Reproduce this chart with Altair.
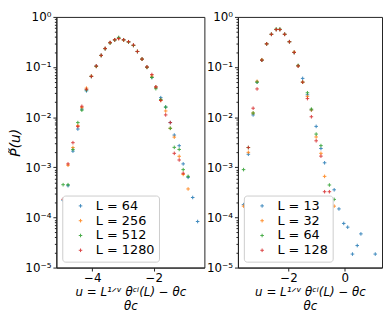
import altair as alt
import pandas as pd

# ---------------- data ----------------
u_left = [-4.95, -4.79, -4.63, -4.47, -4.34, -4.19, -4.03, -3.87, -3.71, -3.58,
          -3.42, -3.27, -3.14, -2.98, -2.82, -2.66, -2.53, -2.38, -2.22, -2.06,
          -1.93, -1.77, -1.61, -1.46, -1.33, -1.17, -1.04, -0.88, -0.73, -0.57]
labels_left = ["L = 64", "L = 256", "L = 512", "L = 1280"]
p_L64 = [2.2e-4, 4.3e-4, 2.1e-3, 5.8e-3, 1.45e-2, 3.35e-2, 0.065, 0.105, 0.171, 0.233,
         0.304, 0.347, 0.375, 0.347, 0.318, 0.27, 0.204, 0.144, 0.101, 0.062,
         0.040, 0.0245, 0.0159, 0.0078, 0.0044, 0.0027, 0.00117, 0.00063, 0.00025, 8.3e-5]
p_L256 = [None, 1.1e-3, 2.48e-3, 6.8e-3, 1.55e-2, 3.8e-2, 0.066, 0.103, 0.17, 0.233,
          0.304, 0.35, 0.37, 0.345, 0.318, 0.27, 0.206, 0.144, 0.100, 0.066,
          0.040, 0.0216, 0.0133, 0.006, 0.004, 0.00166, 0.00072, 0.00037, None, None]
p_L512 = [4.5e-4, 4.5e-4, 2.27e-3, 7.8e-3, 1.38e-2, 3.5e-2, 0.065, 0.103, 0.17, 0.233,
          0.304, 0.347, 0.39, 0.35, 0.315, 0.27, 0.204, 0.144, 0.098, 0.062,
          0.037, 0.0225, 0.0159, 0.006, 0.0025, 0.00227, 0.0009, 0.00066, None, None]
p_L1280 = [2.3e-4, 1.17e-3, 3.1e-3, 6.5e-3, 1.65e-2, 3.6e-2, 0.065, 0.105, 0.171, 0.235,
           0.31, 0.35, 0.37, 0.35, 0.32, 0.275, 0.204, 0.144, 0.10, 0.071,
           0.040, 0.0216, 0.0111, 0.0078, 0.0019, 0.0014, 0.00076, None, None, None]

u_right = [-3.60, -3.43, -3.26, -3.12, -2.95, -2.78, -2.61, -2.44, -2.31, -2.14,
           -1.97, -1.80, -1.66, -1.50, -1.33, -1.19, -1.02, -0.85, -0.72, -0.55,
           -0.38, -0.21, -0.04, 0.10, 0.27, 0.44, 0.57, 1.08]
labels_right = ["L = 13", "L = 32", "L = 64", "L = 128"]
p_L13 = [1.8e-4, 1.82e-3, 1.11e-2, 0.050, 0.137, 0.29, 0.45, 0.56, 0.56, 0.45,
         0.32, 0.195, 0.105, 0.0594, 0.028, 0.0139, 0.00655, 0.00237, 0.00123, None,
         3.56e-4, 1.48e-4, 7.6e-5, 6.4e-5, 1.86e-5, 2.75e-5, 4.7e-5, 1.86e-5]
p_L32 = [1.68e-4, 1.99e-3, 1.21e-2, 0.052, 0.14, 0.29, 0.45, 0.56, 0.56, 0.45,
         0.32, 0.2, 0.105, 0.050, 0.026, 0.0139, 0.00403, 0.0019, 6.6e-4, None,
         1.68e-4, None, None, None, None, None, None, None]
p_rL64 = [9e-4, 2.48e-3, 1.21e-2, 0.050, 0.137, 0.29, 0.45, 0.57, 0.57, 0.45,
          0.32, 0.195, 0.108, 0.050, 0.0307, 0.0145, 0.0046, 0.00271, 2.29e-4, 4.44e-4,
          2.29e-4, None, None, None, None, None, None, None]
p_L128 = [None, 2.48e-3, 1.51e-2, 0.0366, 0.137, 0.29, 0.45, 0.56, 0.56, 0.45,
          0.32, 0.195, 0.105, 0.050, 0.0235, 0.0102, 0.00338, 0.00167, 3.26e-4, 3.26e-4,
          None, None, None, None, None, None, None, None]

y_major = [1e-5, 1e-4, 1e-3, 1e-2, 1e-1, 1.0]
x_ticks_left = [-4, -2]
x_ticks_right = [-2, 0]

colors = ["#1f77b4", "#ff7f0e", "#2ca02c", "#d62728"]
CROSS = "M-1,0L1,0M0,-1L0,1"


def long_df(u, labels, series):
    rows = []
    for lab, vals in zip(labels, series):
        for uu, v in zip(u, vals):
            if v is not None:
                rows.append({"u": uu, "P": v, "L": lab})
    return pd.DataFrame(rows)


df_left = long_df(u_left, labels_left, [p_L64, p_L256, p_L512, p_L1280])
df_right = long_df(u_right, labels_right, [p_L13, p_L32, p_rL64, p_L128])

y_all = [k * 10.0 ** e for e in range(-5, 0) for k in range(1, 10)] + [1.0]
MAJOR = "abs(log(datum.value)/LN10 - round(log(datum.value)/LN10)) < 0.001"
YLAB = (MAJOR + " ? '10' + ['\u2070','\u207b\u00b9','\u207b\u00b2','\u207b\u00b3',"
        "'\u207b\u2074','\u207b\u2075'][-round(log(datum.value)/LN10)] : ''")
XLAB = "datum.value < 0 ? '\u2212' + abs(datum.value) : '' + datum.value"

XTITLE = ["u = L\u00b9\u141f\u1d5b \u03b8\u1d9c\u2071(L) \u2212 \u03b8c",
          "\u00a0" * 14 + "\u03b8c"]


def panel(df, labels, xdom, xticks, width, ytitle):
    yaxis_kw = dict(values=y_all, labelExpr=YLAB, labelOverlap=False,
                    tickSize={"condition": {"test": MAJOR, "value": 3.5}, "value": 2},
                    labelFontSize=12, labelPadding=2, grid=False)
    if ytitle:
        yaxis_kw.update(title=ytitle, titleFontSize=14, titleFontStyle="italic",
                        titleFontWeight="normal", titlePadding=2)
    else:
        yaxis_kw.update(title=None)
    return alt.Chart(df).mark_point(
        shape=CROSS, filled=False, size=13, strokeWidth=1, opacity=0.85, clip=True
    ).encode(
        x=alt.X("u:Q", scale=alt.Scale(domain=xdom, nice=False, zero=False),
                axis=alt.Axis(values=xticks, labelExpr=XLAB, labelFontSize=12,
                              tickSize=3.5, grid=False, title=XTITLE,
                              titleFontSize=12, titleFontWeight="normal",
                              titleFontStyle="italic", titlePadding=3)),
        y=alt.Y("P:Q", scale=alt.Scale(type="log", domain=[1e-5, 1], nice=False),
                axis=alt.Axis(**yaxis_kw)),
        color=alt.Color("L:N", sort=labels,
                        scale=alt.Scale(domain=labels, range=colors),
                        legend=alt.Legend(title=None, orient="bottom-left", offset=6,
                                          fillColor="white", strokeColor="#cccccc",
                                          cornerRadius=3, padding=4,
                                          labelFontSize=13, symbolType=CROSS,
                                          symbolSize=13, symbolStrokeWidth=1,
                                          symbolOpacity=0.85, rowPadding=1,
                                          labelOffset=9, symbolOffset=8)),
    ).properties(width=width, height=254)


left = panel(df_left, labels_left, [-5.17, -0.35], x_ticks_left, 150, "P\u0303(u)")
right = panel(df_right, labels_right, [-3.8, 1.32], x_ticks_right, 146, None)

chart = alt.hconcat(left, right, spacing=0).resolve_scale(
    color="independent", x="independent", y="independent"
).properties(padding=0).configure_view(
    stroke="#222222", strokeWidth=1
).configure_axis(
    domainColor="#222222", tickColor="#222222", labelColor="black", titleColor="black",
    labelFont="DejaVu Sans", titleFont="DejaVu Sans", domainWidth=1
).configure_legend(labelFont="DejaVu Sans", labelColor="black")

chart.save("out.html", embed_options={"renderer": "svg", "actions": False})
